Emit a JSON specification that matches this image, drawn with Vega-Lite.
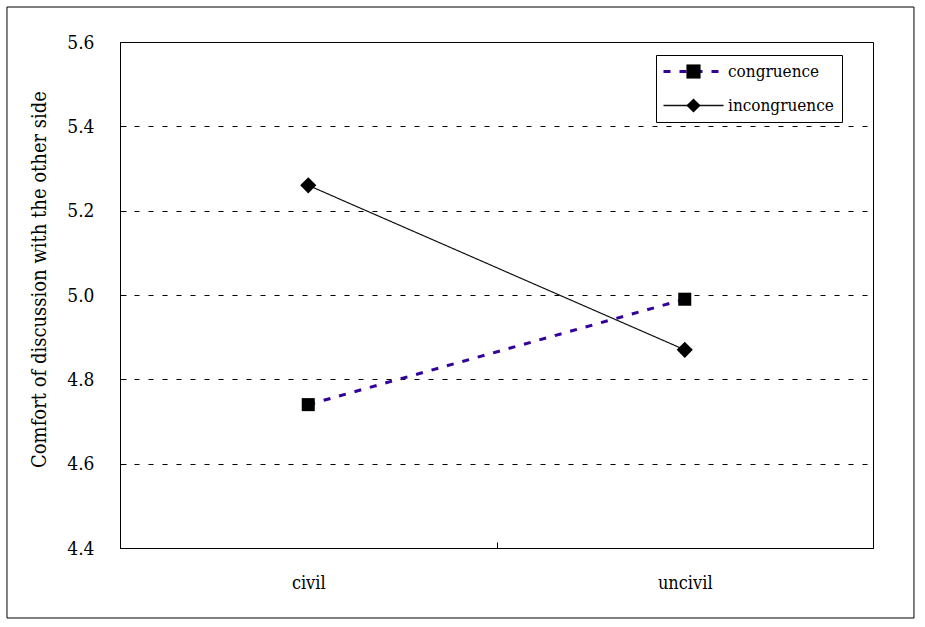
{
  "$schema": "https://vega.github.io/schema/vega-lite/v6.json",
  "width": 753,
  "height": 506,
  "autosize": {"type": "none"},
  "padding": {"left": 120, "top": 42, "right": 52, "bottom": 79},
  "background": "white",
  "config": {
    "view": {"stroke": "black", "strokeWidth": 1},
    "font": "DejaVu Serif Condensed",
    "axis": {"labelFont": "DejaVu Serif Condensed", "titleFont": "DejaVu Serif Condensed", "labelColor": "black", "titleColor": "black", "tickColor": "black", "domain": false},
    "legend": {"labelFont": "DejaVu Serif Condensed"}
  },
  "layer": [
    {
      "data": {"values": [{}]},
      "mark": {"type": "rect", "fill": null, "fillOpacity": 0, "stroke": "black", "strokeWidth": 1, "clip": false},
      "encoding": {
        "x": {"datum": -0.1501, "type": "quantitative", "scale": {"domain": [0, 1]}, "axis": null},
        "x2": {"datum": 1.0544},
        "y": {"datum": 5.683, "type": "quantitative", "scale": {"domain": [4.4, 5.6]}, "axis": null},
        "y2": {"datum": 4.234}
      }
    },
    {
      "data": {
        "values": [
          {"condition": "civil", "series": "congruence", "value": 4.74},
          {"condition": "uncivil", "series": "congruence", "value": 4.99},
          {"condition": "civil", "series": "incongruence", "value": 5.26},
          {"condition": "uncivil", "series": "incongruence", "value": 4.87}
        ]
      },
      "encoding": {
        "x": {
          "field": "condition", "type": "nominal", "sort": ["civil", "uncivil"],
          "scale": {"type": "band", "paddingInner": 0, "paddingOuter": 0},
          "axis": {"title": null, "labelAngle": 0, "labelFontSize": 18, "tickBand": "extent", "tickSize": -6, "labelPadding": 32, "grid": false}
        },
        "y": {
          "field": "value", "type": "quantitative",
          "scale": {"domain": [4.4, 5.6], "zero": false, "nice": false},
          "axis": {
            "title": "Comfort of discussion with the other side",
            "titleFontSize": 20, "titleFontWeight": "normal", "titleX": -81, "titleY": 237, "titleBaseline": "middle",
            "values": [4.4, 4.6, 4.8, 5.0, 5.2, 5.4, 5.6], "format": ".1f",
            "labelFontSize": 19, "tickSize": -6, "labelPadding": 32,
            "grid": true, "gridColor": "black", "gridDash": [5, 9], "gridWidth": 1, "gridOpacity": 1
          }
        }
      },
      "layer": [
        {
          "mark": {"type": "line"},
          "encoding": {
            "color": {
              "field": "series", "type": "nominal",
              "scale": {"range": ["#330099", "#111111"]},
              "legend": {
                "title": null, "orient": "none", "legendX": 536, "legendY": 13,
                "strokeColor": "black", "padding": 8, "labelFontSize": 17, "labelColor": "black",
                "symbolType": "M-0.3,0H1.7", "symbolSize": 3600, "rowPadding": 16, "labelOffset": 47,
                "encode": {"symbols": {"update": {"strokeWidth": {"signal": "datum.value === 'congruence' ? 3 : 1.5"}}}}
              }
            },
            "strokeDash": {
              "field": "series", "type": "nominal",
              "scale": {"range": [[7, 9], [1, 0]]},
              "legend": {"title": null}
            },
            "strokeWidth": {"condition": {"test": "datum.series === 'congruence'", "value": 3}, "value": 1.2}
          }
        },
        {
          "mark": {"type": "point", "filled": true, "opacity": 1, "color": "black"},
          "encoding": {
            "shape": {
              "field": "series", "type": "nominal",
              "scale": {"domain": ["congruence", "incongruence"], "range": ["square", "diamond"]},
              "legend": {
                "title": null, "orient": "none", "legendX": 557, "legendY": 13,
                "padding": 8, "labelFontSize": 17, "labelExpr": "''", "rowPadding": 16,
                "symbolFillColor": "black", "symbolStrokeWidth": 0, "symbolSize": 200,
                "encode": {"symbols": {"update": {"size": {"signal": "datum.value === 'congruence' ? 170 : 260"}, "fill": {"value": "black"}}}}
              }
            },
            "size": {"condition": {"test": "datum.series === 'incongruence'", "value": 260}, "value": 170}
          }
        }
      ]
    }
  ],
  "resolve": {"scale": {"x": "independent", "y": "independent"}}
}
